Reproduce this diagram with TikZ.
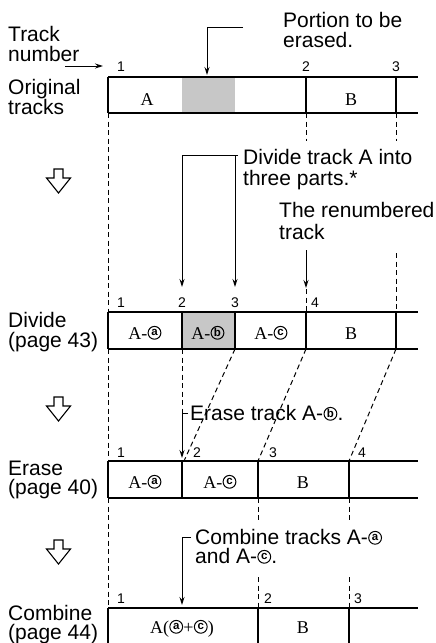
\documentclass[tikz,border=0pt]{standalone}
\usepackage{fontspec}
\setmainfont{Liberation Serif}
\setsansfont{Liberation Sans}
\usetikzlibrary{arrows.meta}
\newcommand\circl[1]{\tikz[baseline=0pt]{\path[use as bounding box] (0pt,-0.5pt) rectangle (14.4pt,13pt);\draw[line width=1pt,solid] (7.2pt,6.2pt) circle[radius=6.4pt];\node[anchor=center,inner sep=0pt,outer sep=0pt,font=\sffamily\bfseries\fontsize{11.5}{11.5}\selectfont] (circlenode) at (7.2pt,6.2pt) {#1};}}
\begin{document}
\begin{tikzpicture}[x=1pt,y=-1pt,
  lab/.style={font=\sffamily\fontsize{21}{21}\selectfont, anchor=base west, inner sep=0pt},
  num/.style={font=\sffamily\fontsize{14}{14}\selectfont, anchor=base, inner sep=0pt},
  cell/.style={font=\fontsize{18}{18}\selectfont, anchor=base, inner sep=0pt},
  hline/.style={line width=1.2pt},
  divider/.style={line width=2.2pt},
  dline/.style={line width=1pt, dash pattern=on 5pt off 3.5pt},
  arr/.style={line width=1pt, -{Stealth[length=8pt,width=5pt]}},
  hollow/.style={line width=1.1pt, fill=white, line join=miter},
  graycell/.style={fill=black!22}
]
\useasboundingbox (0,0) rectangle (436,643);

% ---------- left labels ----------
\node[lab] (ltrack) at (8,41) {Track};
\node[lab] (lnumber) at (8,61) {number};
\node[lab] (lorig) at (8,94) {Original};
\node[lab] (ltracks) at (8,114) {tracks};
\node[lab] (ldiv) at (8,327) {Divide};
\node[lab] (ldivp) at (8,347) {(page 43)};
\node[lab] (lera) at (8,475) {Erase};
\node[lab] (lerap) at (8,494) {(page 40)};
\node[lab] (lcom) at (8,620) {Combine};
\node[lab] (lcomp) at (8,639) {(page 44)};

% hollow step arrows
\foreach \t in {169,397,540}
  \draw[hollow,shift={(0,\t)}] (54,0) -- (63,0) -- (63,9) -- (70.5,9) -- (58.5,24) -- (46.5,9) -- (54,9) -- cycle;

% ---------- row 1 ----------
\fill[graycell] (182,77) rectangle (235,113);
\draw[hline] (108,77) -- (418,77);
\draw[hline] (108,113) -- (418,113);
\foreach \x in {108,306,396} \draw[divider] (\x,77) -- (\x,113);
\node[cell] (r1a) at (147,105) {A};
\node[cell] (r1b) at (351,105) {B};
\node[num] (r1n1) at (121,71) {1};
\node[num] (r1n2) at (306,71) {2};
\node[num] (r1n3) at (396,71) {3};

% track number arrow
\coordinate (tnS) at (65,66);
\coordinate (tnE) at (103,66);
\draw[arr] (tnS) -- (tnE);

% portion to be erased
\node[lab] (portion1) at (283,27) {Portion to be};
\node[lab] (portion2) at (283,47) {erased.};
\coordinate (pS) at (243,27);
\coordinate (pT) at (207,75);
\draw[arr] (pS) -| (pT);

% ---------- row 2 ----------
\fill[graycell] (182,312) rectangle (235,349);
\draw[hline] (108,312) -- (418,312);
\draw[hline] (108,349) -- (418,349);
\foreach \x in {108,182,235,306,396} \draw[divider] (\x,312) -- (\x,349);
\node[cell] (r2a) at (145,339) {A-\circl{a}};
\node[cell] (r2b) at (208,339) {A-\circl{b}};
\node[cell] (r2c) at (271,339) {A-\circl{c}};
\node[cell] (r2d) at (351,339) {B};
\node[num] (r2n1) at (121,307) {1};
\node[num] (r2n2) at (182,307) {2};
\node[num] (r2n3) at (235,307) {3};
\node[num] (r2n4) at (315,307) {4};

% divide annotation
\node[lab] (divt1) at (243,164) {Divide track A into};
\node[lab] (divt2) at (243,185) {three parts.*};
\coordinate (dS) at (238,155);
\coordinate (dC) at (235,155);
\coordinate (dT1) at (182,287);
\coordinate (dT2) at (235,287);
\draw[arr] (dS) -| (dT1);
\draw[arr] (dC) -- (dT2);

% renumbered
\node[lab] (ren1) at (279,217) {The renumbered};
\node[lab] (ren2) at (279,239) {track};
\coordinate (rS) at (306,250);
\coordinate (rT) at (306,288);
\draw[arr] (rS) -- (rT);

% dashed row1 -> row2
\draw[dline] (108,113) -- (108,312);
\draw[dline] (306,113) -- (306,141);
\draw[dline] (396,113) -- (396,141);
\draw[dline] (306,289) -- (306,312);
\draw[dline] (396,253) -- (396,312);

% ---------- row 3 ----------
\draw[hline] (108,461) -- (418,461);
\draw[hline] (108,498) -- (418,498);
\foreach \x in {108,182,258,349} \draw[divider] (\x,461) -- (\x,498);
\node[cell] (r3a) at (145,488) {A-\circl{a}};
\node[cell] (r3c) at (220,488) {A-\circl{c}};
\node[cell] (r3d) at (303,488) {B};
\node[num] (r3n1) at (121,457) {1};
\node[num] (r3n2) at (197,457) {2};
\node[num] (r3n3) at (273,457) {3};
\node[num] (r3n4) at (362,457) {4};

% dashed row2 -> row3
\draw[dline] (108,349) -- (108,461);
\draw[dline] (182,349) -- (182,413);
\draw[dline] (235,349) -- (184,461);
\draw[dline] (306,349) -- (258,461);
\draw[dline] (396,349) -- (349,461);

% erase annotation
\node[lab] (erat) at (190,420) {Erase track A-\circl{b}.};
\coordinate (eS) at (188,413);
\coordinate (eT) at (182,458);
\draw[arr] (eS) -| (eT);

% ---------- row 4 ----------
\draw[hline] (108,608) -- (418,608);
\foreach \x in {108,258,349} \draw[divider] (\x,608) -- (\x,645);
\node[cell] (r4a) at (182,633) {A(\circl{a}+\circl{c})};
\node[cell] (r4b) at (303,633) {B};
\node[num] (r4n1) at (121,603) {1};
\node[num] (r4n2) at (268,603) {2};
\node[num] (r4n3) at (358,603) {3};

% dashed row3 -> row4
\draw[dline] (108,498) -- (108,608);
\draw[dline] (258,498) -- (258,523);
\draw[dline] (349,498) -- (349,523);
\draw[dline] (258,577) -- (258,608);
\draw[dline] (349,577) -- (349,608);

% combine annotation
\node[lab] (comt1) at (195,544) {Combine tracks A-\circl{a}};
\node[lab] (comt2) at (195,563) {and A-\circl{c}.};
\coordinate (cS) at (191,537);
\coordinate (cT) at (182,605);
\draw[arr] (cS) -| (cT);
\end{tikzpicture}
\end{document}
